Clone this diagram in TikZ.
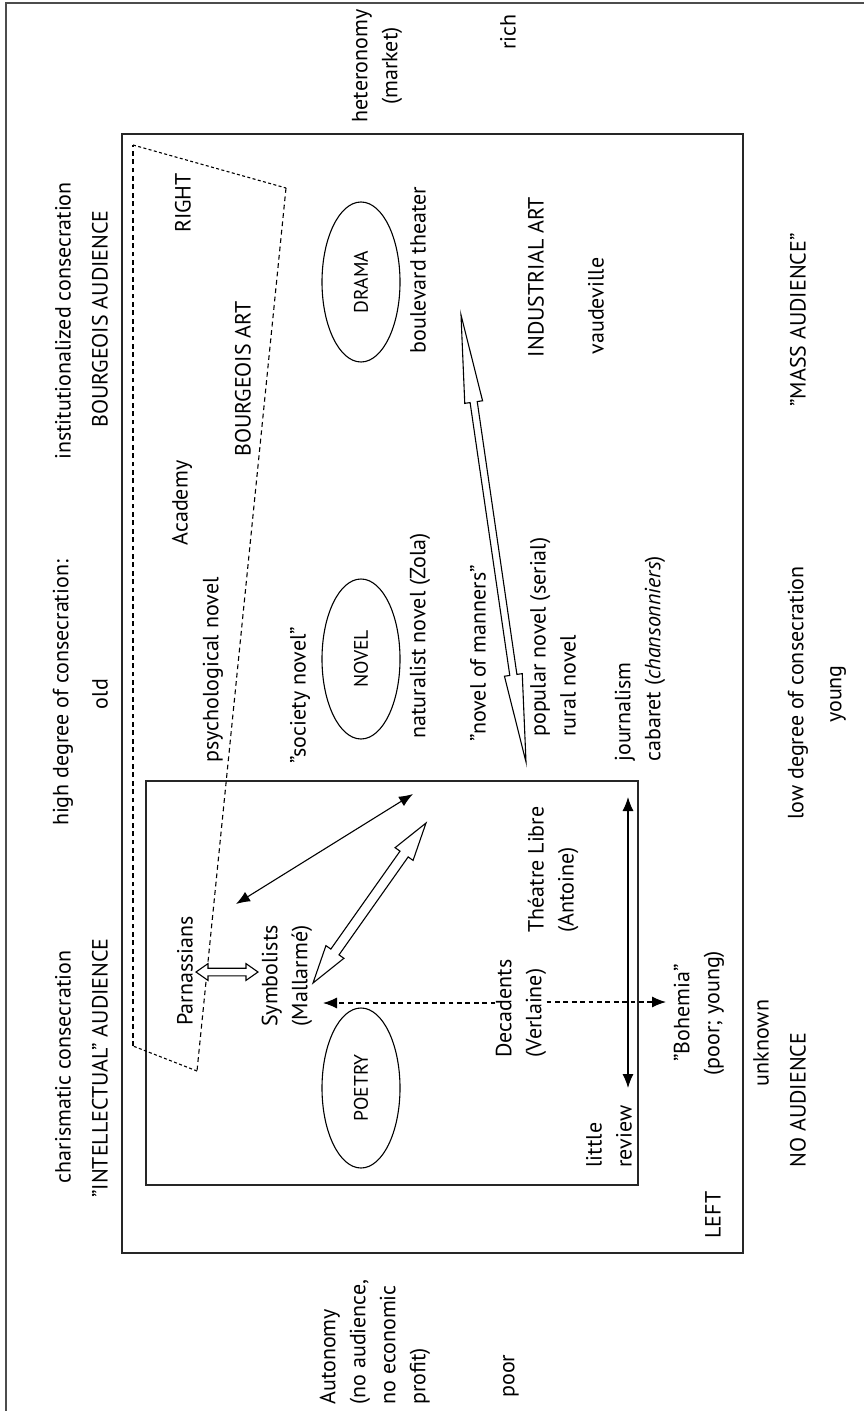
\documentclass[tikz,border=0pt]{standalone}
\usepackage{fontspec}
\setmainfont{PT Sans}
\usetikzlibrary{calc,arrows.meta,shapes.geometric}

% Open (outlined) double-headed block arrow between two tips:
% #1 tip A, #2 tip B, #3 head length, #4 head half width, #5 shaft half width
\newcommand\blockarrow[5]{%
  \draw[openarrow]
    (#1)
    -- ($(#1)!#3!(#2)!#4!90:(#2)$)
    -- ($(#1)!#3!(#2)!#5!90:(#2)$)
    -- ($(#2)!#3!(#1)!#5!-90:(#1)$)
    -- ($(#2)!#3!(#1)!#4!-90:(#1)$)
    -- (#2)
    -- ($(#2)!#3!(#1)!#4!90:(#1)$)
    -- ($(#2)!#3!(#1)!#5!90:(#1)$)
    -- ($(#1)!#3!(#2)!#5!-90:(#2)$)
    -- ($(#1)!#3!(#2)!#4!-90:(#2)$)
    -- cycle;}

\begin{document}
\begin{tikzpicture}[x=0.5pt,y=-0.5pt,
  lbl/.style={rotate=90,inner sep=0pt,font=\fontsize{11}{15}\selectfont},
  lblL/.style={lbl,align=left,anchor=west},
  lblC/.style={lbl,align=center},
  genre/.style={draw,ellipse,rotate=90,minimum width=80pt,minimum height=39pt,
    inner sep=0pt,line width=0.55pt,font=\fontsize{9.8}{11}\selectfont},
  boxline/.style={line width=0.7pt,draw=black!85},
  frameline/.style={line width=1pt,draw=black!70},
  fieldline/.style={line width=0.55pt,dash pattern=on 2.4pt off 1.8pt},
  fieldslant/.style={line width=0.55pt,dash pattern=on 1.5pt off 1.2pt},
  openarrow/.style={draw,fill=white,line width=0.55pt,line join=miter},
  thinarrow/.style={{Latex[length=7pt,width=5.5pt]}-{Latex[length=7pt,width=5.5pt]},line width=0.55pt},
  dasharrow/.style={-{Latex[length=7pt,width=5.5pt]},line width=0.55pt,dash pattern=on 2.4pt off 1.8pt}]

\useasboundingbox (0,0) rectangle (863,1411);

% outer frame and the two nested fields
\draw[frameline] (6,3) rectangle (880,1430);
\draw[boxline] (122,134) rectangle (743,1253);
\draw[boxline] (146,781) rectangle (638,1185);

% dashed outline of the dominant ("right") region
\draw[fieldline] (133,1046) -- (133,145);
\draw[fieldslant] (133,145) -- (286,188);
\draw[fieldline] (286,188) -- (197,1071);
\draw[fieldslant] (197,1071) -- (133,1046);

% labels outside the field
\node[lblC] (heter) at (377,66) {heteronomy\\(market)};
\node[lbl] (rich) at (508,32) {rich};
\node[lbl] (instcons) at (63,321) {institutionalized consecration};
\node[lbl] (bourgaud) at (100,319) {BOURGEOIS AUDIENCE};
\node[lbl] (highdeg) at (63,693) {high degree of consecration:};
\node[lbl] (old) at (100,694) {old};
\node[lbl] (charcons) at (63,1067) {charismatic consecration};
\node[lbl] (intaud) at (100,1068) {”INTELLECTUAL” AUDIENCE};
\node[lbl] (massaud) at (798,320) {”MASS AUDIENCE”};
\node[lbl] (lowdeg) at (798,693) {low degree of consecration};
\node[lbl] (young) at (838,694) {young};
\node[lbl] (unknown) at (761,1043) {unknown};
\node[lbl] (noaud) at (798,1100) {NO AUDIENCE};
\node[lblL] (auton) at (375,1405) {Autonomy\\(no audience,\\no economic\\profit)};
\node[lblL] (poor) at (511,1398) {poor};

% labels inside the field
\node[lbl] (right) at (183,203) {RIGHT};
\node[lbl] (bart) at (243,379) {BOURGEOIS ART};
\node[lbl] (academy) at (182,503) {Academy};
\node[lbl] (psych) at (213,670) {psychological novel};
\node[lbl] (society) at (300,695) {”society novel”};
\node[lbl] (natur) at (420,636) {naturalist novel (Zola)};
\node[lbl] (boul) at (418,270) {boulevard theater};
\node[lbl] (indart) at (536,277) {INDUSTRIAL ART};
\node[lbl] (vaud) at (596,306) {vaudeville};
\node[lbl] (manners) at (478,653) {”novel of manners”};
\node[lblL] (popular) at (553,737) {popular novel (serial)\\rural novel};
\node[lblL] (journ) at (640,762) {journalism\\cabaret (\textit{chansonniers})};
\node[lbl] (parn) at (185,971) {Parnassians};
\node[lblC] (symb) at (287,976) {Symbolists\\(Mallarmé)};
\node[lblL] (theatre) at (553,933) {Théatre Libre\\(Antoine)};
\node[lblL] (dec) at (521,1058) {Decadents\\(Verlaine)};
\node[lblC] (boh) at (699,1013) {”Bohemia”\\(poor; young)};
\node[lblL] (little) at (609,1168) {little\\review};
\node[lbl] (left) at (713,1215) {LEFT};

% genres
\node[genre] (drama) at (361,282) {DRAMA};
\node[genre] (novel) at (361,659) {NOVEL};
\node[genre] (poetry) at (361,1088) {POETRY};

% arrow end points
\coordinate (manA) at (461,315);
\coordinate (manB) at (526,762);
\coordinate (symA) at (313,983);
\coordinate (symB) at (426,823);
\coordinate (parA) at (196,972);
\coordinate (parB) at (258,972);
\coordinate (parT) at (236,904);
\coordinate (novT) at (413,794);
\coordinate (revT) at (628,1088);
\coordinate (thT) at (628,797);
\coordinate (symtip) at (323,1003);
\coordinate (bohtip) at (666,1002);

% open block arrows
\blockarrow{manA}{manB}{44pt}{4.5pt}{1.8pt}
\blockarrow{symA}{symB}{19pt}{5.5pt}{2.5pt}
\blockarrow{parA}{parB}{6pt}{4.2pt}{1.9pt}

% thin arrows
\draw[thinarrow] (parT) -- (novT);
\draw[thinarrow] (revT) -- (thT);
\draw[dasharrow] (dec.north |- symtip) -- (symtip);
\draw[dasharrow] (dec.south |- bohtip) -- (bohtip);

\end{tikzpicture}
\end{document}
